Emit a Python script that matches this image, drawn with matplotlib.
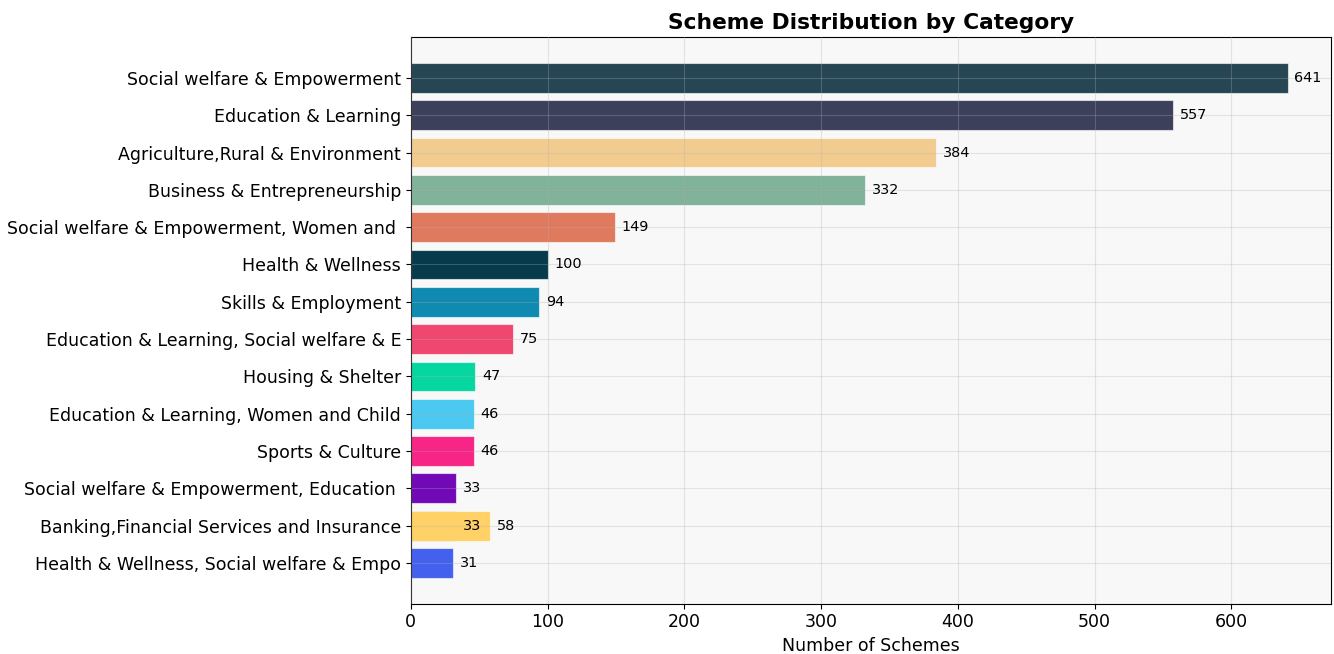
import matplotlib
matplotlib.use("Agg")
import matplotlib.pyplot as plt

# categories in plotting order (ascending); truncated labels collide for Banking
categories = [
    "Health & Wellness, Social welfare & Empo",
    "Banking,Financial Services and Insurance",
    "Social welfare & Empowerment, Education ",
    "Sports & Culture",
    "Education & Learning, Women and Child",
    "Housing & Shelter",
    "Banking,Financial Services and Insurance",
    "Education & Learning, Social welfare & E",
    "Skills & Employment",
    "Health & Wellness",
    "Social welfare & Empowerment, Women and ",
    "Business & Entrepreneurship",
    "Agriculture,Rural & Environment",
    "Education & Learning",
    "Social welfare & Empowerment",
]
counts = [31, 33, 33, 46, 46, 47, 58, 75, 94, 100, 149, 332, 384, 557, 641]
colors = [
    "#4361ee", "#3a0ca3", "#7209b7", "#f72585", "#4cc9f0", "#06d6a0", "#ffd166",
    "#ef476f", "#118ab2", "#073b4c", "#e07a5f", "#81b29a", "#f2cc8f", "#3d405b",
    "#264653",
]

fig, ax = plt.subplots(figsize=(13.34, 6.54), dpi=100)
fig.subplots_adjust(left=0.308, right=0.998, top=0.943, bottom=0.077)
ax.set_facecolor("#f8f8f8")

bars = ax.barh(categories, counts, color=colors, edgecolor=(1, 1, 1, 0.6), linewidth=0.8)
for bar, val in zip(bars, counts):
    ax.text(bar.get_width() + 5, bar.get_y() + bar.get_height() / 2, str(val),
            ha="left", va="center", fontsize=10.4)

ax.set_title("Scheme Distribution by Category", fontsize=15.7, fontweight="bold")
ax.set_xlabel("Number of Schemes", fontsize=12.5)
ax.tick_params(axis="both", labelsize=12.5)
ax.grid(True, alpha=0.3)
ax.set_axisbelow(False)

fig.savefig("out.png", dpi=100)
